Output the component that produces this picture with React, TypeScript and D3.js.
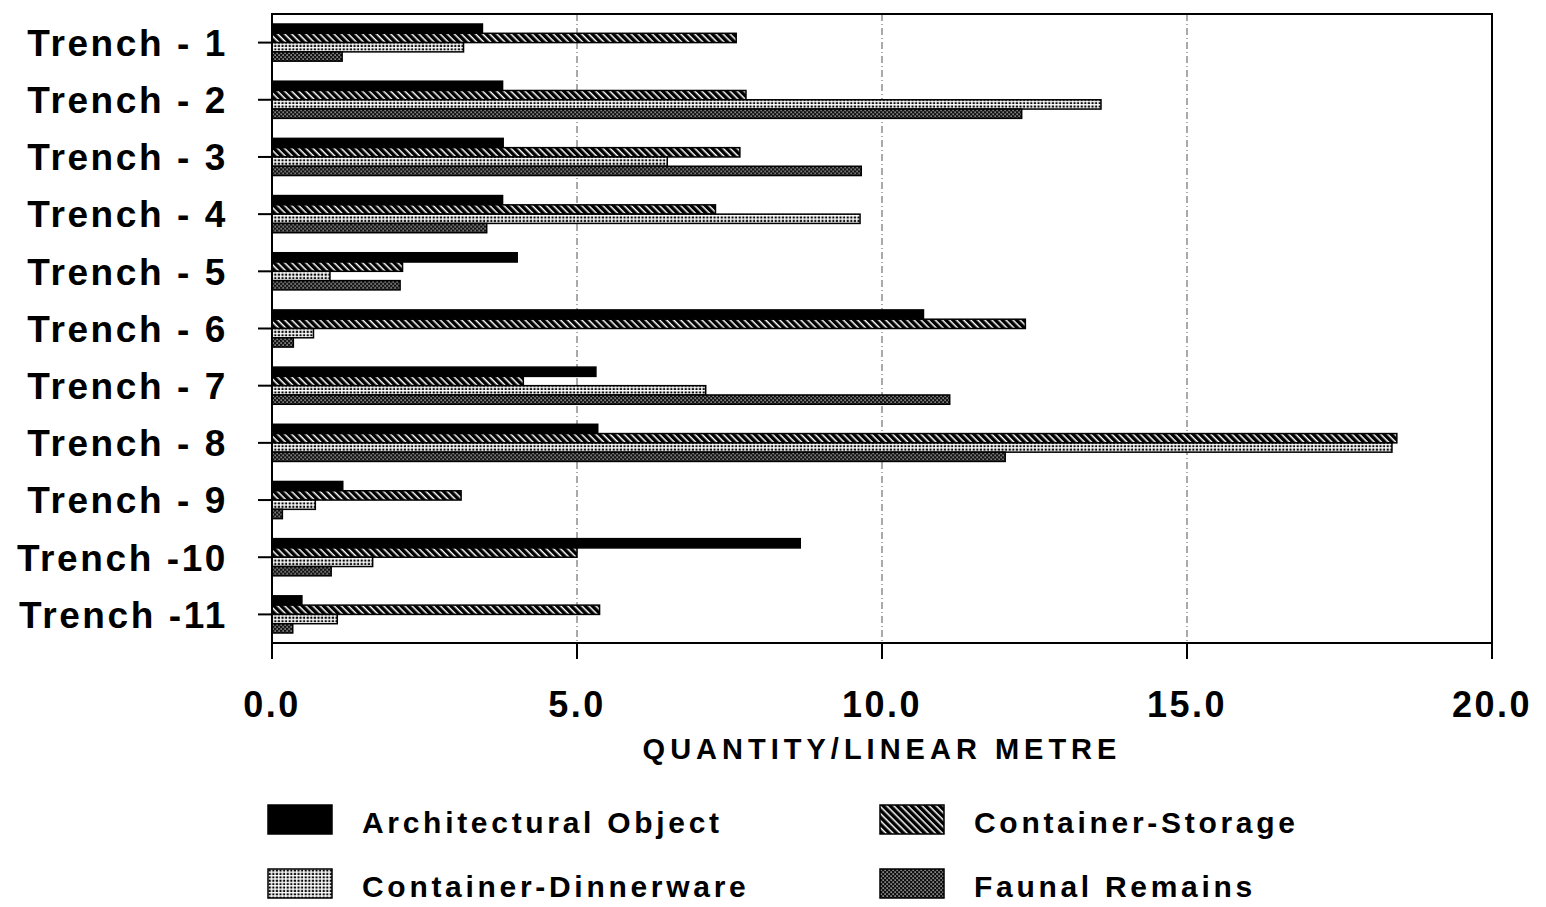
import { useMemo } from "react";
import * as d3 from "d3";

const trenches = [
  "Trench - 1",
  "Trench - 2",
  "Trench - 3",
  "Trench - 4",
  "Trench - 5",
  "Trench - 6",
  "Trench - 7",
  "Trench - 8",
  "Trench - 9",
  "Trench -10",
  "Trench -11",
];

const seriesNames = [
  "Architectural Object",
  "Container-Storage",
  "Container-Dinnerware",
  "Faunal Remains",
];

const architectural = [3.45, 3.78, 3.79, 3.78, 4.02, 10.68, 5.31, 5.34, 1.16, 8.66, 0.49];
const storage = [7.61, 7.77, 7.67, 7.27, 2.14, 12.35, 4.12, 18.44, 3.1, 5.0, 5.37];
const dinnerware = [3.14, 13.59, 6.48, 9.64, 0.95, 0.68, 7.11, 18.36, 0.71, 1.65, 1.07];
const faunal = [1.15, 12.29, 9.66, 3.52, 2.1, 0.35, 11.11, 12.02, 0.17, 0.97, 0.34];

const seriesValues = [architectural, storage, dinnerware, faunal];
const patternIds = ["solid", "hatch", "dots", "mesh"];

const xTicks = [0, 5, 10, 15, 20];
const xTitle = "QUANTITY/LINEAR METRE";

const FONT = "'Liberation Sans', Arial, Helvetica, sans-serif";

const W = 1546;
const H = 907;
const margin = { top: 14, right: 54, bottom: 264, left: 272 };

function fillFor(i: number) {
  return i === 0 ? "#000" : `url(#${patternIds[i]})`;
}

export default function App() {
  const plotW = W - margin.left - margin.right;
  const plotH = H - margin.top - margin.bottom;

  const x = useMemo(
    () => d3.scaleLinear().domain([0, 20]).range([margin.left, margin.left + plotW]),
    [plotW]
  );
  const y = useMemo(
    () =>
      d3
        .scaleBand<string>()
        .domain(trenches)
        .range([margin.top, margin.top + plotH])
        .paddingInner(0.35)
        .paddingOuter(0.175),
    [plotH]
  );
  const inner = useMemo(
    () =>
      d3
        .scaleBand<string>()
        .domain(seriesNames)
        .range([0, y.bandwidth()]),
    [y]
  );

  const fmt = d3.format(".1f");
  const bottom = margin.top + plotH;

  // legend: two columns, two rows as in the figure
  const legendOrder = [
    { s: 0, col: 0, row: 0 },
    { s: 1, col: 1, row: 0 },
    { s: 2, col: 0, row: 1 },
    { s: 3, col: 1, row: 1 },
  ];
  const legendX = [268, 880];
  const legendY = [805, 869];

  return (
    <svg
      width={W}
      height={H}
      style={{ position: "absolute", left: 0, top: 0, background: "#fff" }}
      fontFamily={FONT}
    >
      <defs>
        <pattern id="hatch" width="5" height="5" patternUnits="userSpaceOnUse" patternTransform="rotate(-45)">
          <rect width="5" height="5" fill="#fff" />
          <rect width="3.5" height="5" fill="#000" />
        </pattern>
        <pattern id="dots" width="3.6" height="3.4" patternUnits="userSpaceOnUse">
          <rect width="3.6" height="3.4" fill="#fff" />
          <rect x="0.6" y="0.5" width="2.2" height="2" fill="#000" />
        </pattern>
        <pattern id="mesh" width="4" height="4" patternUnits="userSpaceOnUse">
          <rect width="4" height="4" fill="#111" />
          <rect x="0.5" y="0.5" width="1.2" height="1.2" fill="#fff" />
          <rect x="2.5" y="2.5" width="1.2" height="1.2" fill="#fff" />
        </pattern>
      </defs>

      {/* grid */}
      {xTicks
        .filter((t) => t > 0 && t < 20)
        .map((t) => (
          <line
            key={`g${t}`}
            x1={x(t)}
            x2={x(t)}
            y1={margin.top}
            y2={bottom}
            stroke="#555"
            strokeWidth={1}
            strokeDasharray="7,3,1,3"
          />
        ))}

      {/* bars */}
      {trenches.map((t, ti) => (
        <g key={t} transform={`translate(0,${y(t)})`}>
          {seriesNames.map((s, si) => {
            const v = seriesValues[si][ti];
            return (
              <rect
                key={s}
                x={x(0)}
                y={inner(s)}
                width={x(v) - x(0)}
                height={inner.bandwidth()}
                fill={fillFor(si)}
                stroke="#000"
                strokeWidth={1.5}
              />
            );
          })}
        </g>
      ))}

      {/* frame */}
      <rect
        x={margin.left}
        y={margin.top}
        width={plotW}
        height={plotH}
        fill="none"
        stroke="#000"
        strokeWidth={2}
      />

      {/* y axis */}
      {trenches.map((t) => {
        const cy = (y(t) ?? 0) + y.bandwidth() / 2;
        return (
          <g key={`yl${t}`}>
            <line x1={margin.left - 14} x2={margin.left} y1={cy} y2={cy} stroke="#000" strokeWidth={2} />
            <text
              x={228}
              y={cy}
              dy="0.36em"
              textAnchor="end"
              fontSize={37}
              fontWeight="bold"
              letterSpacing={2.6}
              fill="#000"
            >
              {t}
            </text>
          </g>
        );
      })}

      {/* x axis */}
      {xTicks.map((t) => (
        <g key={`xt${t}`}>
          <line x1={x(t)} x2={x(t)} y1={bottom} y2={bottom + 16} stroke="#000" strokeWidth={2} />
          <text
            x={x(t)}
            y={704}
            dy="0.36em"
            textAnchor="middle"
            fontSize={36}
            fontWeight="bold"
            letterSpacing={2.5}
            fill="#000"
          >
            {fmt(t)}
          </text>
        </g>
      ))}
      <text
        x={x(10)}
        y={749}
        dy="0.36em"
        textAnchor="middle"
        fontSize={29}
        fontWeight="bold"
        letterSpacing={5}
        fill="#000"
      >
        {xTitle}
      </text>

      {/* legend */}
      {legendOrder.map(({ s, col, row }) => (
        <g key={`lg${s}`} transform={`translate(${legendX[col]},${legendY[row]})`}>
          <rect width={64} height={29} fill={fillFor(s)} stroke="#000" strokeWidth={1.5} />
          <text
            x={94}
            y={17}
            dy="0.36em"
            fontSize={30}
            fontWeight="bold"
            letterSpacing={3.7}
            fill="#000"
          >
            {seriesNames[s]}
          </text>
        </g>
      ))}
    </svg>
  );
}
